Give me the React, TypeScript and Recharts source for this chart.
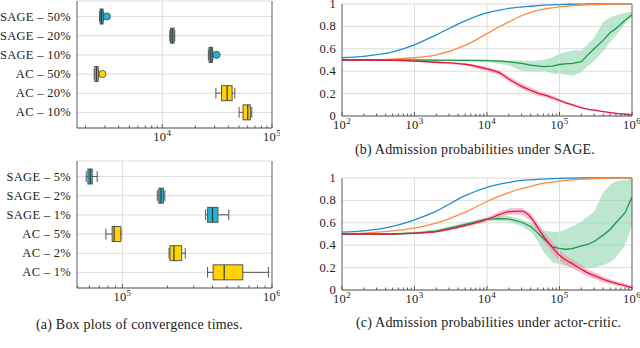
import {
  Area,
  Bar,
  CartesianGrid,
  ComposedChart,
  Line,
  ReferenceLine,
  XAxis,
  YAxis,
} from "recharts";

const FONT = '"Liberation Serif", "Times New Roman", serif';
const FRAME = "#5a5a5a";
const GRID = "#dcdcdc";
const INK = "#222";

// ---- (a) box plots: convergence times ----
const topLabels = ["SAGE – 50%", "SAGE – 20%", "SAGE – 10%", "AC – 50%", "AC – 20%", "AC – 10%"];
const topLo = [2680, 11700, 26300, 2394, 30800, 50100];
const topQ1 = [2716, 11900, 26700, 2428, 34700, 54500];
const topMed = [2790, 12300, 27700, 2512, 39000, 60100];
const topQ3 = [2890, 12800, 28700, 2603, 43300, 63400];
const topHi = [2920, 13000, 28900, 2630, 45800, 65400];
const topOut = [3124, null, 31200, 2849, null, null];

const botLabels = ["SAGE – 5%", "SAGE – 2%", "SAGE – 1%", "AC – 5%", "AC – 2%", "AC – 1%"];
const botLo = [57300, 171000, 360000, 77500, 205000, 371000];
const botQ1 = [58800, 175000, 371000, 85400, 208000, 404000];
const botMed = [60900, 181000, 400000, 88000, 221000, 479000];
const botQ3 = [62800, 188000, 435000, 97500, 249000, 638000];
const botHi = [67800, 192000, 514000, 99500, 263000, 946000];
const botOut = [null, null, null, null, null, null];

// ---- (b)/(c) admission probabilities ----
const xs = [
  100, 200, 500, 1e3, 2e3, 5e3, 1e4, 1.5e4, 2e4, 3e4, 4e4, 5e4, 6e4, 8e4, 1e5,
  1.2e5, 1.5e5, 2e5, 2.5e5, 3e5, 4e5, 5e5, 6e5, 8e5, 1e6,
];

const sageBlue = [.52, .533, .572, .635, .725, .85, .92, .945, .96, .973, .98, .985, .99, .993, .995, .997, .998, .999, 1, 1, 1, 1, 1, 1, 1];
const sageOrange = [.5, .5, .508, .52, .545, .63, .735, .8, .84, .895, .925, .943, .953, .966, .975, .98, .986, .991, .993, .995, .997, .998, .999, 1, 1];
const sageGreen = [.5, .5, .5, .5, .498, .496, .495, .49, .483, .47, .455, .447, .44, .446, .46, .465, .47, .485, .55, .6, .675, .745, .78, .855, .905];
const sageGreenLo = [.497, .497, .497, .496, .492, .488, .485, .465, .45, .405, .4, .4, .405, .38, .375, .37, .36, .39, .45, .49, .58, .66, .72, .82, .885];
const sageGreenHi = [.503, .503, .503, .504, .504, .504, .505, .5, .495, .495, .49, .495, .5, .525, .555, .57, .585, .585, .645, .7, .84, .88, .9, .92, .93];
const sageRed = [.5, .5, .497, .49, .48, .462, .42, .385, .33, .265, .23, .205, .19, .163, .14, .12, .1, .075, .06, .052, .04, .03, .024, .016, .01];
const sageRedSpread = [0, 0, .003, .005, .008, .01, .02, .022, .025, .025, .025, .022, .02, .018, .015, .012, .01, .008, .006, .005, .005, .004, .004, .003, .003];

const acBlue = [.516, .528, .568, .627, .705, .842, .916, .945, .96, .978, .984, .988, .99, .994, .997, .998, .999, 1, 1, 1, 1, 1, 1, 1, 1];
const acOrange = [.5, .508, .527, .555, .597, .695, .79, .84, .87, .905, .925, .942, .952, .964, .973, .978, .984, .99, .992, .994, .996, .998, .999, 1, 1];
const acGreen = [.498, .499, .5, .507, .525, .585, .633, .637, .635, .605, .567, .51, .46, .385, .372, .364, .37, .395, .41, .433, .49, .54, .6, .69, .83];
const acGreenLo = [.49, .49, .49, .495, .51, .57, .615, .615, .61, .57, .52, .44, .34, .25, .23, .215, .205, .2, .2, .2, .22, .25, .29, .4, .57];
const acGreenHi = [.506, .508, .51, .52, .54, .6, .65, .66, .66, .63, .6, .56, .53, .52, .52, .54, .57, .61, .66, .7, .87, .94, .97, .985, .99];
const acRed = [.5, .5, .5, .507, .522, .575, .63, .675, .7, .705, .65, .56, .48, .38, .31, .27, .235, .185, .15, .13, .095, .075, .06, .04, .02];
const acRedSpread = [.005, .005, .005, .006, .008, .012, .02, .025, .028, .03, .035, .04, .045, .05, .05, .045, .04, .035, .03, .03, .025, .022, .02, .018, .015];

const probTicks = [0, 0.2, 0.4, 0.6, 0.8, 1];

// decade ticks (majors + 2..9 minors) between two powers of ten
function logTicks(fromExp: number, toExp: number) {
  const out: number[] = [];
  for (let e = fromExp; e < toExp; e++) {
    for (let m = 1; m < 10; m++) out.push(m * Math.pow(10, e));
  }
  out.push(Math.pow(10, toExp));
  return out;
}

function isMajor(v: number) {
  const e = Math.log10(v);
  return Math.abs(e - Math.round(e)) < 1e-6;
}

const labelStyle = { fontFamily: FONT, fontSize: 12.5, letterSpacing: 0.3 };

function LogTick(props: any) {
  const { x, y, payload, side, lo } = props;
  const v = payload.value;
  if (v < lo) return <g />;
  const major = isMajor(v);
  const len = major ? 4 : 2.5;
  if (side === "top") {
    return <line x1={x} x2={x} y1={y} y2={y + len} stroke={FRAME} />;
  }
  return (
    <g>
      <line x1={x} x2={x} y1={y} y2={y - len} stroke={FRAME} />
      {major && (
        <text x={x} y={y + 13} textAnchor="middle" fill={INK} style={labelStyle}>
          10
          <tspan dy={-5} fontSize={9}>
            {Math.round(Math.log10(v))}
          </tspan>
        </text>
      )}
    </g>
  );
}

function LeftTick(props: any) {
  const { x, y, payload } = props;
  return (
    <text x={x} y={y} textAnchor="end" dominantBaseline="central" fill={INK} style={labelStyle}>
      {String(payload.value)}
    </text>
  );
}

const boxColor = (label: string) => (label.startsWith("SAGE") ? "#1cb7d3" : "#ffd400");

function WhiskerShape(props: any) {
  const { x, y, width, height } = props;
  const cy = y + height / 2;
  const cap = height * 0.36;
  return (
    <g stroke="#555" strokeWidth={1}>
      <line x1={x} x2={x + width} y1={cy} y2={cy} />
      <line x1={x} x2={x} y1={cy - cap} y2={cy + cap} />
      <line x1={x + width} x2={x + width} y1={cy - cap} y2={cy + cap} />
    </g>
  );
}

function BoxShape(props: any) {
  const { x, y, width, height, payload } = props;
  return (
    <rect x={x} y={y} width={width} height={height} fill={boxColor(payload.label)} stroke="#555" strokeWidth={1} />
  );
}

function MedianShape(props: any) {
  const { x, y, height } = props;
  return <line x1={x} x2={x} y1={y} y2={y + height} stroke="#3a3a3a" strokeWidth={1.2} />;
}

function OutlierShape(props: any) {
  const { x, y, height, payload } = props;
  if (payload.out == null) return <g />;
  return <circle cx={x} cy={y + height / 2} r={3.6} fill={boxColor(payload.label)} stroke="#444" strokeWidth={0.8} />;
}

function BoxChart({ labels, lo, q1, med, q3, hi, out, domain, ticks, grid }: any) {
  const data = labels.map((label: string, i: number) => ({
    label,
    whisker: [lo[i], hi[i]],
    box: [q1[i], q3[i]],
    mid: [med[i], med[i]],
    out: out[i] == null ? null : [out[i], out[i]],
  }));
  return (
    <ComposedChart
      layout="vertical"
      width={280}
      height={145}
      data={data}
      margin={{ top: 1, right: 8, bottom: 0, left: 0 }}
      barSize={15}
      barGap={-15}
    >
      <CartesianGrid vertical={false} stroke={GRID} />
      {grid.map((v: number) => (
        <ReferenceLine key={v} x={v} stroke={GRID} />
      ))}
      <XAxis
        type="number"
        scale="log"
        domain={domain}
        allowDataOverflow
        ticks={ticks}
        interval={0}
        height={17}
        tickLine={false}
        tickSize={0}
        tickMargin={0}
        axisLine={{ stroke: FRAME }}
        tick={(p: any) => <LogTick {...p} side="bottom" lo={domain[0]} />}
      />
      <XAxis
        xAxisId="top"
        orientation="top"
        type="number"
        scale="log"
        domain={domain}
        allowDataOverflow
        ticks={ticks}
        interval={0}
        height={0}
        tickLine={false}
        tickSize={0}
        tickMargin={0}
        axisLine={{ stroke: FRAME }}
        tick={(p: any) => <LogTick {...p} side="top" lo={domain[0]} />}
      />
      <YAxis
        type="category"
        dataKey="label"
        width={77}
        interval={0}
        allowDuplicatedCategory={false}
        padding={{ top: 6, bottom: 6 }}
        tickLine={false}
        tickSize={0}
        tickMargin={6}
        axisLine={{ stroke: FRAME }}
        tick={(p: any) => <LeftTick {...p} />}
      />
      <ReferenceLine x={domain[1]} stroke={FRAME} />
      <Bar dataKey="whisker" shape={WhiskerShape} isAnimationActive={false} />
      <Bar dataKey="box" shape={BoxShape} isAnimationActive={false} />
      <Bar dataKey="mid" shape={MedianShape} isAnimationActive={false} />
      <Bar dataKey="out" shape={OutlierShape} isAnimationActive={false} />
    </ComposedChart>
  );
}

function ProbChart({ blue, orange, green, greenLo, greenHi, red, redSpread }: any) {
  const data = xs.map((x, i) => ({
    x,
    blue: blue[i],
    orange: orange[i],
    green: green[i],
    gBand: [greenLo[i], greenHi[i]],
    red: red[i],
    rBand: [red[i] - redSpread[i], red[i] + redSpread[i]],
  }));
  const ticks = logTicks(2, 6);
  return (
    <ComposedChart width={340} height={136} data={data} margin={{ top: 4, right: 8, bottom: 0, left: 0 }}>
      <CartesianGrid vertical={false} stroke={GRID} />
      {[1e3, 1e4, 1e5].map((v) => (
        <ReferenceLine key={v} x={v} stroke={GRID} />
      ))}
      <XAxis
        dataKey="x"
        type="number"
        scale="log"
        domain={[1e2, 1e6]}
        allowDataOverflow
        ticks={ticks}
        interval={0}
        height={20}
        tickLine={false}
        tickSize={0}
        tickMargin={0}
        axisLine={{ stroke: FRAME }}
        tick={(p: any) => <LogTick {...p} side="bottom" lo={1e2} />}
      />
      <XAxis
        xAxisId="top"
        orientation="top"
        type="number"
        scale="log"
        domain={[1e2, 1e6]}
        allowDataOverflow
        ticks={ticks}
        interval={0}
        height={0}
        tickLine={false}
        tickSize={0}
        tickMargin={0}
        axisLine={{ stroke: FRAME }}
        tick={(p: any) => <LogTick {...p} side="top" lo={1e2} />}
      />
      <YAxis
        type="number"
        domain={[0, 1]}
        ticks={probTicks}
        interval={0}
        width={42}
        tickLine={false}
        tickSize={0}
        tickMargin={6}
        axisLine={{ stroke: FRAME }}
        tick={(p: any) => <LeftTick {...p} />}
      />
      <ReferenceLine x={1e6} stroke={FRAME} />
      <Area dataKey="gBand" type="linear" stroke="none" fill="#8fd6ae" fillOpacity={0.6} isAnimationActive={false} />
      <Area dataKey="rBand" type="linear" stroke="none" fill="#f08aa6" fillOpacity={0.55} isAnimationActive={false} />
      <Line dataKey="blue" type="monotone" stroke="#1f8fc8" strokeWidth={1.3} dot={false} isAnimationActive={false} />
      <Line dataKey="orange" type="monotone" stroke="#ff8a3d" strokeWidth={1.3} dot={false} isAnimationActive={false} />
      <Line dataKey="green" type="linear" stroke="#1b9a45" strokeWidth={1.3} dot={false} isAnimationActive={false} />
      <Line dataKey="red" type="monotone" stroke="#e8153e" strokeWidth={1.3} dot={false} isAnimationActive={false} />
    </ComposedChart>
  );
}

const captionStyle: any = {
  position: "absolute",
  fontFamily: FONT,
  fontSize: 14,
  letterSpacing: 0.2,
  color: INK,
  whiteSpace: "nowrap",
  lineHeight: "16px",
};

export default function App() {
  return (
    <div style={{ position: "fixed", left: 0, top: 0, width: 640, height: 348, background: "#fff", fontFamily: FONT }}>
      <div style={{ position: "absolute", left: 0, top: 0 }}>
        <BoxChart
          labels={topLabels}
          lo={topLo}
          q1={topQ1}
          med={topMed}
          q3={topQ3}
          hi={topHi}
          out={topOut}
          domain={[1670, 1e5]}
          ticks={logTicks(3, 5)}
          grid={[1e4]}
        />
      </div>
      <div style={{ position: "absolute", left: 0, top: 160 }}>
        <BoxChart
          labels={botLabels}
          lo={botLo}
          q1={botQ1}
          med={botMed}
          q3={botQ3}
          hi={botHi}
          out={botOut}
          domain={[49700, 1e6]}
          ticks={logTicks(4, 6)}
          grid={[1e5]}
        />
      </div>
      <div style={{ ...captionStyle, left: 36, top: 317 }}>(a) Box plots of convergence times.</div>
      <div style={{ position: "absolute", left: 300, top: 0 }}>
        <ProbChart
          blue={sageBlue}
          orange={sageOrange}
          green={sageGreen}
          greenLo={sageGreenLo}
          greenHi={sageGreenHi}
          red={sageRed}
          redSpread={sageRedSpread}
        />
      </div>
      <div style={{ ...captionStyle, left: 355, top: 142 }}>(b) Admission probabilities under SAGE.</div>
      <div style={{ position: "absolute", left: 300, top: 174 }}>
        <ProbChart
          blue={acBlue}
          orange={acOrange}
          green={acGreen}
          greenLo={acGreenLo}
          greenHi={acGreenHi}
          red={acRed}
          redSpread={acRedSpread}
        />
      </div>
      <div style={{ ...captionStyle, left: 356, top: 315 }}>(c) Admission probabilities under actor-critic.</div>
    </div>
  );
}
